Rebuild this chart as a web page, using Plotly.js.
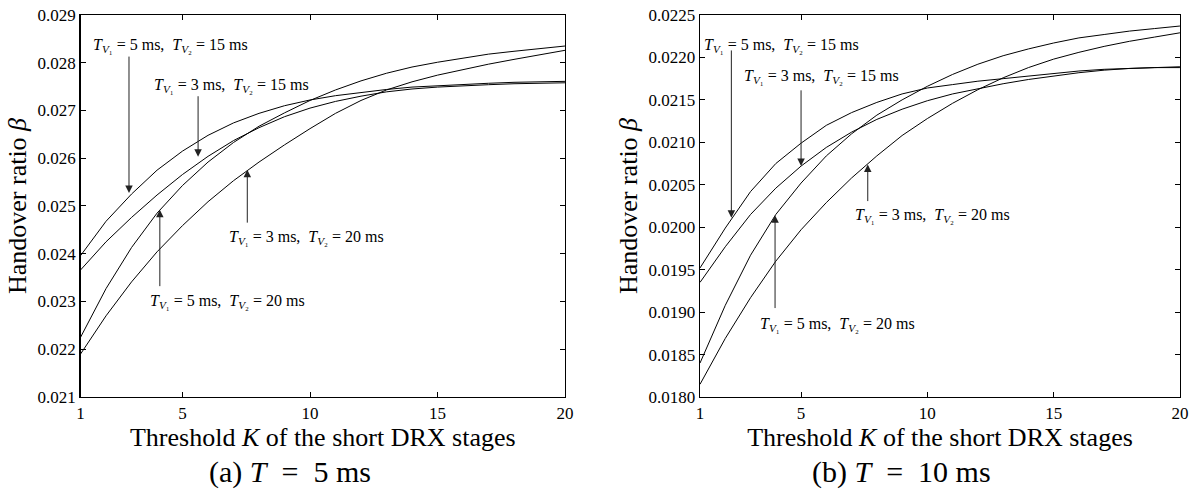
<!DOCTYPE html>
<html>
<head>
<meta charset="utf-8">
<script src="https://cdn.plot.ly/plotly-3.0.1.min.js"></script>
<style>html,body{margin:0;padding:0;background:#fff}#chart{width:1195px;height:496px}</style>
</head>
<body>
<div id="chart"></div>
<script>
// Threshold K of the short DRX stages
const K = [1,2,3,4,5,6,7,8,9,10,11,12,13,14,15,16,17,18,19,20];

// (a) T = 5 ms
const a_v5_15 = [0.02396,0.02468,0.02525,0.02575,0.02615,0.02648,0.02674,0.02694,0.02710,0.02722,0.02731,0.02738,0.02744,0.02749,0.02752,0.02755,0.02757,0.02759,0.02760,0.02761];
const a_v3_15 = [0.02366,0.02425,0.02476,0.02523,0.02566,0.02604,0.02637,0.02664,0.02687,0.02705,0.02719,0.02730,0.02739,0.02745,0.02749,0.02752,0.02754,0.02756,0.02757,0.02758];
const a_v5_20 = [0.02225,0.02327,0.02413,0.02485,0.02543,0.02592,0.02633,0.02667,0.02695,0.02721,0.02743,0.02762,0.02778,0.02791,0.02801,0.02810,0.02818,0.02824,0.02829,0.02835];
const a_v3_20 = [0.02190,0.02270,0.02341,0.02404,0.02459,0.02509,0.02553,0.02592,0.02628,0.02662,0.02694,0.02721,0.02743,0.02760,0.02774,0.02786,0.02797,0.02807,0.02817,0.02826];

// (b) T = 10 ms
const b_v5_15 = [0.01952,0.01999,0.02042,0.02075,0.02099,0.02120,0.02135,0.02147,0.02157,0.02164,0.02168,0.02172,0.02175,0.02178,0.02181,0.02184,0.02186,0.02187,0.02188,0.02189];
const b_v3_15 = [0.01935,0.01977,0.02015,0.02046,0.02072,0.02094,0.02112,0.02127,0.02139,0.02149,0.02157,0.02163,0.02169,0.02174,0.02178,0.02182,0.02185,0.02187,0.02188,0.02188];
const b_v5_20 = [0.01840,0.01908,0.01967,0.02015,0.02052,0.02084,0.02110,0.02132,0.02150,0.02166,0.02180,0.02192,0.02202,0.02210,0.02217,0.02223,0.02227,0.02231,0.02234,0.02237];
const b_v3_20 = [0.01815,0.01869,0.01917,0.01960,0.01997,0.02029,0.02058,0.02084,0.02108,0.02128,0.02146,0.02162,0.02176,0.02188,0.02198,0.02206,0.02213,0.02219,0.02224,0.02229];

const xTicks = [1,5,10,15,20];
const yTicksA = [0.021,0.022,0.023,0.024,0.025,0.026,0.027,0.028,0.029];
const yTicksB = [0.0180,0.0185,0.0190,0.0195,0.0200,0.0205,0.0210,0.0215,0.0220,0.0225];

const lineStyle = {color:'#000', width:1};
function tr(y, xa, ya){ return {x:K, y:y, xaxis:xa, yaxis:ya, mode:'lines', line:lineStyle, hoverinfo:'skip', showlegend:false}; }

const data = [
  tr(a_v5_15,'x','y'), tr(a_v3_15,'x','y'), tr(a_v5_20,'x','y'), tr(a_v3_20,'x','y'),
  tr(b_v5_15,'x2','y2'), tr(b_v3_15,'x2','y2'), tr(b_v5_20,'x2','y2'), tr(b_v3_20,'x2','y2')
];

const serif = 'Liberation Serif, Times New Roman, serif';
const tickFont = {family:serif, size:17, color:'#000'};
const titleFont = {family:serif, size:26, color:'#000'};

function xaxisDef(domain, anchor){
  return {domain:domain, anchor:anchor, range:[1,20], tickmode:'array', tickvals:xTicks,
    ticks:'inside', ticklen:5, tickcolor:'#000', tickwidth:1, showline:true, linecolor:'#000', linewidth:1.3,
    mirror:'ticks', showgrid:false, zeroline:false, tickfont:tickFont, automargin:false,
    title:{text:'Threshold <i>K</i> of the short DRX stages', font:titleFont, standoff:2}};
}
function yaxisDef(anchor, ticks, fmt, range){
  return {domain:[0.1996,0.9698], anchor:anchor, range:range, tickmode:'array', tickvals:ticks,
    tickformat:fmt, ticks:'inside', ticklen:5, tickcolor:'#000', tickwidth:1, showline:true,
    linecolor:'#000', linewidth:1.3, mirror:'ticks', showgrid:false, zeroline:false, tickfont:tickFont,
    automargin:false, title:{text:'Handover ratio <i>β</i>', font:titleFont, standoff:3}};
}

const annFont = {family:serif, size:16, color:'#000'};
function lbl(xref, yref, x, y, t){
  return {xref:xref, yref:yref, x:x, y:y, text:t, showarrow:false, xanchor:'left', yanchor:'middle', font:annFont};
}
function arr(xref, yref, x, y, ax, ay){
  return {xref:xref, yref:yref, x:x, y:y, ax:ax, ay:ay, axref:xref, ayref:yref, text:'',
    showarrow:true, arrowhead:2, arrowsize:1.5, arrowwidth:1, arrowcolor:'#222'};
}
const TV1 = '<i>T</i><sub><i>V</i>₁</sub>';
const TV2 = '<i>T</i><sub><i>V</i>₂</sub>';
function txt(a,b){ return TV1 + ' = ' + a + ' ms,  ' + TV2 + ' = ' + b + ' ms'; }

const annotations = [
  lbl('x','y',1.42,0.02837, txt(5,15)),
  arr('x','y',2.9,0.02527,2.9,0.02816),
  lbl('x','y',3.82,0.02753, txt(3,15)),
  arr('x','y',5.61,0.02603,5.61,0.02733),
  lbl('x','y',6.74,0.02435, txt(3,20)),
  arr('x','y',7.54,0.02576,7.54,0.02462),
  lbl('x','y',3.64,0.02301, txt(5,20)),
  arr('x','y',4.11,0.02492,4.11,0.02329),

  lbl('x2','y2',1.08,0.02214, txt(5,15)),
  arr('x2','y2',2.24,0.02011,2.24,0.02210),
  lbl('x2','y2',2.68,0.02177, txt(3,15)),
  arr('x2','y2',5.0,0.02072,5.0,0.02163),
  lbl('x2','y2',7.06,0.02014, txt(3,20)),
  arr('x2','y2',7.64,0.02074,7.64,0.02029),
  lbl('x2','y2',3.29,0.01885, txt(5,20)),
  arr('x2','y2',3.97,0.02014,3.97,0.01903),

  {xref:'paper', yref:'paper', x:0.2427, y:0.048, text:'(a) <i>T</i>\u2002=\u20025 ms', showarrow:false,
   xanchor:'center', yanchor:'middle', font:{family:serif, size:30, color:'#000'}},
  {xref:'paper', yref:'paper', x:0.7548, y:0.048, text:'(b) <i>T</i>\u2002=\u200210 ms', showarrow:false,
   xanchor:'center', yanchor:'middle', font:{family:serif, size:30, color:'#000'}}
];

const layout = {
  width:1195, height:496, margin:{l:0, r:0, t:0, b:0},
  paper_bgcolor:'#fff', plot_bgcolor:'#fff', showlegend:false,
  xaxis: xaxisDef([0.0674,0.4728],'y'),
  yaxis: yaxisDef('x', yTicksA, '.3f', [0.021,0.029]),
  xaxis2: xaxisDef([0.5858,0.9874],'y2'),
  yaxis2: yaxisDef('x2', yTicksB, '.4f', [0.0180,0.0225]),
  annotations: annotations
};

Plotly.newPlot('chart', data, layout, {displayModeBar:false, staticPlot:true});
</script>
</body>
</html>
